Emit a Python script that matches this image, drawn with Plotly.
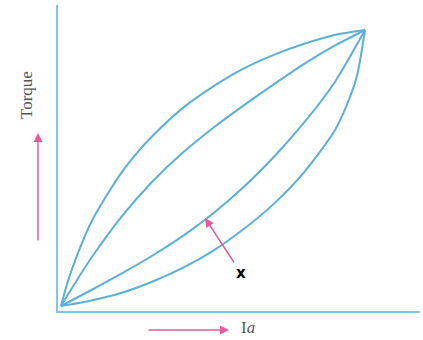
import plotly.graph_objects as go

# Armature current (normalised) and torque (normalised) for the four curves
curve1_x = [0, 2, 5, 10, 15, 20, 25, 30, 40, 50, 60, 70, 80, 90, 100]
curve1_y = [0, 8, 17.5, 30.5, 40, 48.5, 55.5, 61.5, 71.7, 79.5, 86, 91, 95, 98.2, 100]

curve2_x = [0, 5, 10, 20, 30, 40, 50, 60, 70, 80, 90, 100]
curve2_y = [0, 9, 17.5, 32.5, 45, 55.5, 64.5, 72.6, 80.3, 87.7, 94.3, 100]

curve3_x = [0, 10, 20, 30, 40, 50, 60, 70, 80, 90, 100]
curve3_y = [0, 5.8, 11.8, 18.2, 25.3, 33.5, 43.0, 54.0, 66.5, 81.0, 100]

curve4_x = [0, 10, 20, 30, 40, 50, 60, 70, 80, 90, 95, 97.5, 100]
curve4_y = [0, 2.0, 4.8, 8.8, 13.8, 20.0, 27.8, 37.0, 48.5, 63.5, 75.5, 84, 100]

y_label = "Torque"
x_label = "I<i>a</i>"
marker_label = "x"

CURVE_COLOR = "rgb(92,176,216)"
AXIS_COLOR = "rgb(128,198,230)"
PINK = "rgb(232,90,155)"

fig = go.Figure()
for xs, ys in [(curve1_x, curve1_y), (curve2_x, curve2_y),
               (curve3_x, curve3_y), (curve4_x, curve4_y)]:
    fig.add_trace(go.Scatter(x=xs, y=ys, mode="lines",
                             line=dict(color=CURVE_COLOR, width=2, shape="spline", smoothing=0.7),
                             hoverinfo="skip", showlegend=False))

fig.update_layout(
    width=423, height=340,
    margin=dict(l=58, r=3, t=5, b=29),
    paper_bgcolor="white", plot_bgcolor="white",
    showlegend=False,
    xaxis=dict(range=[-0.99, 118.1], showgrid=False, zeroline=False, showticklabels=False,
               ticks="", showline=True, linecolor=AXIS_COLOR, linewidth=2, fixedrange=True),
    yaxis=dict(range=[-1.81, 109.06], showgrid=False, zeroline=False, showticklabels=False,
               ticks="", showline=True, linecolor=AXIS_COLOR, linewidth=2, fixedrange=True),
)

def px_to_paper(px, py):
    return (px - 58) / 362.0, (311 - py) / 306.0

annots = []
# Torque label
tx, ty = px_to_paper(27, 95)
annots.append(dict(x=tx, y=ty, xref="paper", yref="paper", text=y_label, showarrow=False,
                   xanchor="center", yanchor="middle", textangle=-90,
                   font=dict(family="Liberation Serif", size=17, color="rgb(85,85,85)")))
# Upward pink arrow
ux, uy = px_to_paper(38, 133)
annots.append(dict(x=ux, y=uy, xref="paper", yref="paper", text="", showarrow=True,
                   ax=0, ay=109, arrowhead=2, arrowsize=1.2, arrowwidth=1.5, arrowcolor=PINK))
# Horizontal pink arrow
hx, hy = px_to_paper(229, 330)
annots.append(dict(x=hx, y=hy, xref="paper", yref="paper", text="", showarrow=True,
                   ax=-82, ay=0, arrowhead=2, arrowsize=1.2, arrowwidth=1.5, arrowcolor=PINK))
# Ia label
lx, ly = px_to_paper(248, 327)
annots.append(dict(x=lx, y=ly, xref="paper", yref="paper", text=x_label, showarrow=False,
                   xanchor="center", yanchor="middle",
                   font=dict(family="Liberation Serif", size=17, color="rgb(90,90,90)")))
# Pointer arrow to curve
px_, py_ = px_to_paper(205, 218)
annots.append(dict(x=px_, y=py_, xref="paper", yref="paper", text="", showarrow=True,
                   ax=30, ay=46, arrowhead=2, arrowsize=1.2, arrowwidth=1.5, arrowcolor=PINK))
# x label
xx, xy = px_to_paper(241, 273)
annots.append(dict(x=xx, y=xy, xref="paper", yref="paper", text="<b>" + marker_label + "</b>",
                   showarrow=False, xanchor="center", yanchor="middle",
                   font=dict(family="DejaVu Sans", size=15, color="black")))

fig.update_layout(annotations=annots)
fig.write_html("out.html", post_script="document.body.style.margin='0px';",
               config={"displayModeBar": False})
